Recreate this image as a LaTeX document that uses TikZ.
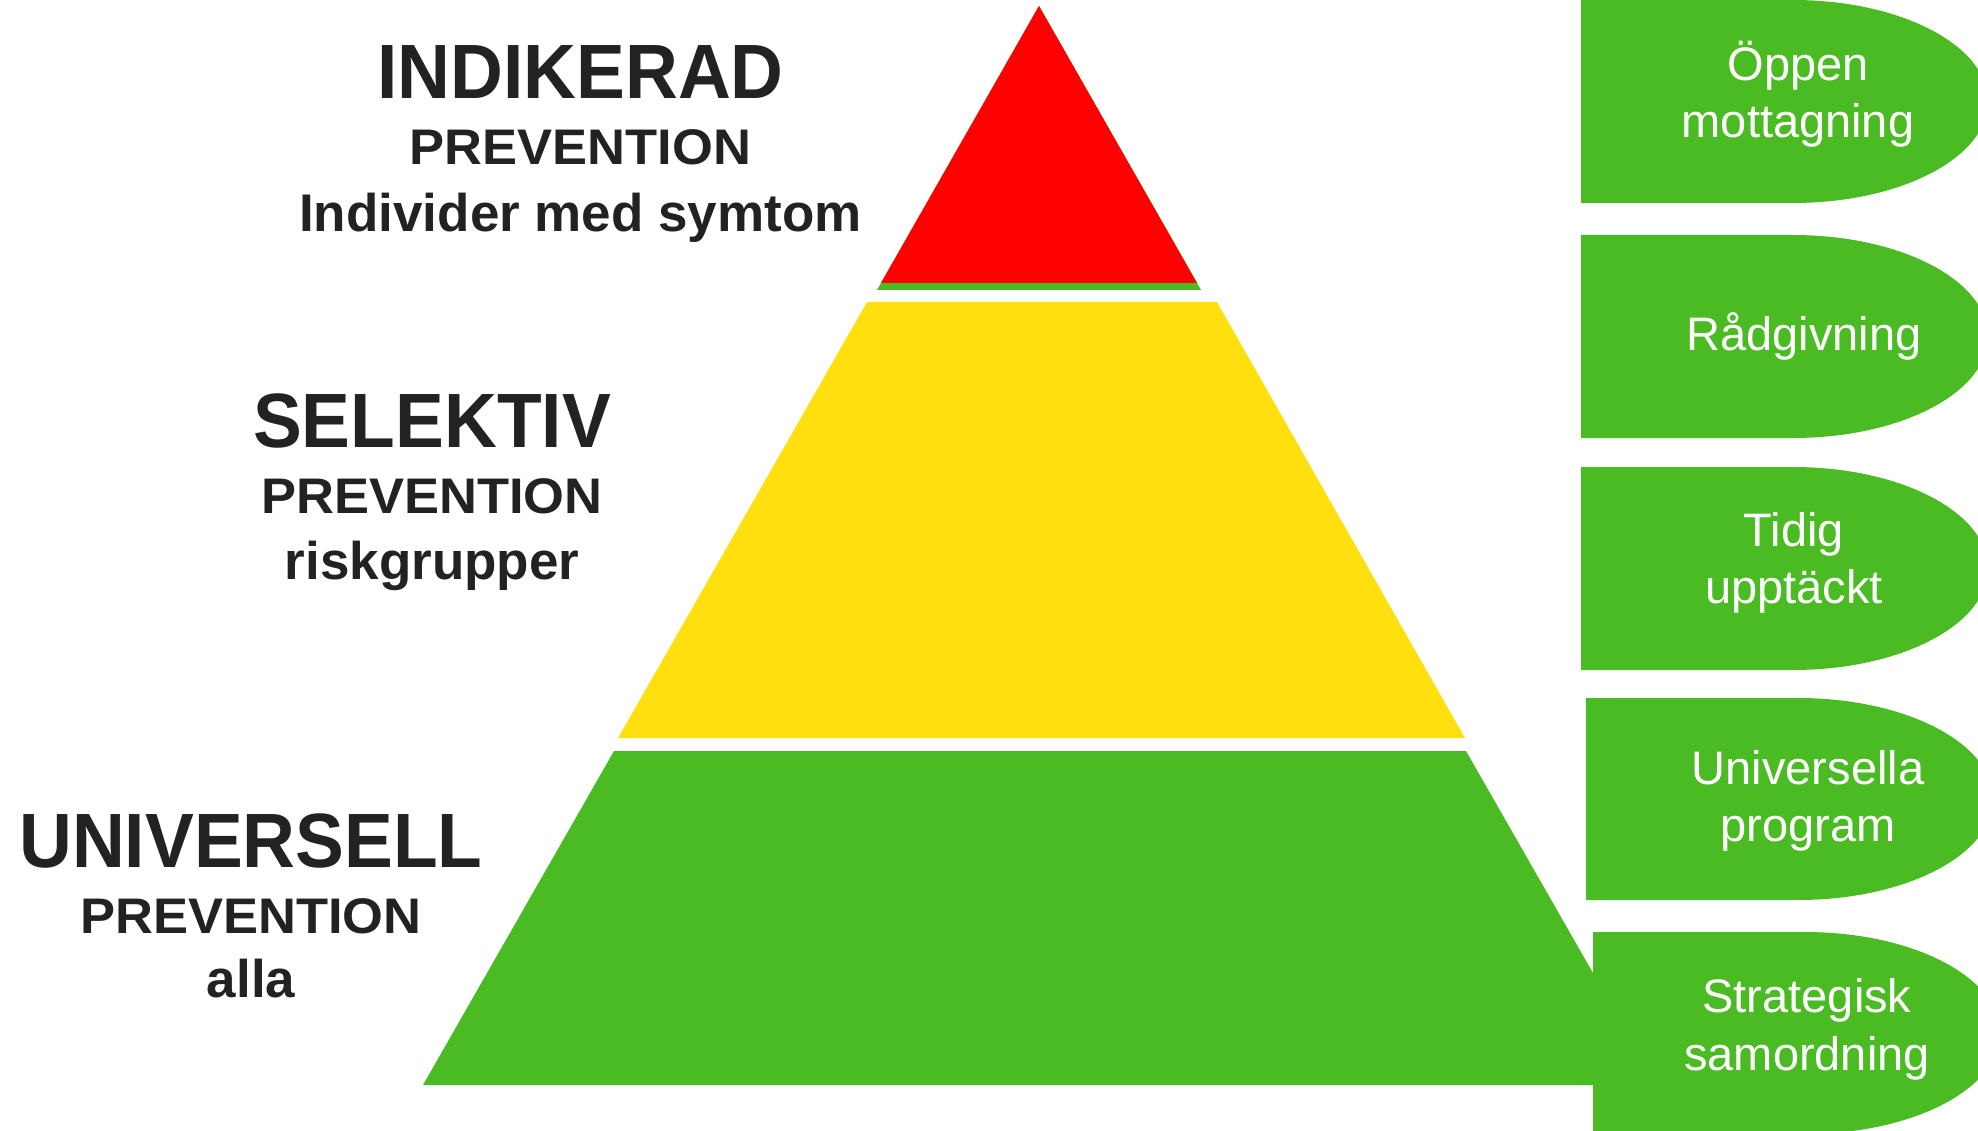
\documentclass[tikz,border=0pt]{standalone}
\usepackage{fontspec}
\setmainfont{Liberation Sans}
\newfontfamily\titlefont[FakeStretch=0.95]{Liberation Sans}
\newfontfamily\prevfont[FakeStretch=1.05]{Liberation Sans}
\definecolor{grn}{RGB}{75,187,35}
\definecolor{ylw}{RGB}{255,224,14}
\definecolor{rd}{RGB}{254,0,0}
\definecolor{txt}{RGB}{34,34,34}
% left x, top y, bottom y, x where the round end starts
\newcommand\bubblefill[4]{%
  \fill[grn] (#1,-#2) -- (#4,-#2)
    arc[start angle=90, end angle=-90, x radius=195, y radius={(#3-#2)/2}]
    -- (#1,-#3) -- cycle;}
\tikzset{
  lvltitle/.style={anchor=base, inner sep=0pt, text=txt, font=\titlefont\bfseries\fontsize{77}{77}\selectfont},
  prevtxt/.style={anchor=base, inner sep=0pt, text=txt, font=\prevfont\bfseries\fontsize{50}{50}\selectfont},
  subtxt/.style={anchor=base, inner sep=0pt, text=txt, font=\bfseries\fontsize{53}{53}\selectfont},
  btext/.style={anchor=base, inner sep=0pt, text=white, font=\fontsize{47}{47}\selectfont},
}
\begin{document}
\begin{tikzpicture}[x=1pt,y=1pt]
\useasboundingbox (0,0) rectangle (1978,-1131);
\begin{scope}
\clip (0,0) rectangle (1978,-1131);
% pyramid
\fill[grn] (1039,-6) -- (1201,-290) -- (877,-290) -- cycle;
\fill[rd] (1039,-6) -- (1197,-283) -- (881,-283) -- cycle;
\fill[ylw] (867,-302) -- (1217,-302) -- (1465,-738) -- (618,-738) -- cycle;
\fill[grn] (614,-751) -- (1466,-751) -- (1657,-1085) -- (423,-1085) -- cycle;
% bubbles
\bubblefill{1581}{0}{203}{1793}
\bubblefill{1581}{235}{438}{1793}
\bubblefill{1581}{467}{670}{1793}
\bubblefill{1586}{698}{900}{1798}
\bubblefill{1593}{932}{1134}{1805}
\end{scope}
% left labels
\node[lvltitle] (t1) at (580.5,-99) {INDIKERAD};
\node[prevtxt] (p1) at (580.5,-165) {PREVENTION};
\node[subtxt] (s1) at (580.5,-232) {Individer med symtom};
\node[lvltitle] (t2) at (432,-447) {SELEKTIV};
\node[prevtxt] (p2) at (432,-513) {PREVENTION};
\node[subtxt] (s2) at (432,-579) {riskgrupper};
\node[lvltitle] (t3) at (251,-867) {UNIVERSELL};
\node[prevtxt] (p3) at (251,-933) {PREVENTION};
\node[subtxt] (s3) at (251,-997) {alla};
% bubble texts
\node[btext] (b1a) at (1798,-81) {Öppen};
\node[btext] (b1b) at (1798,-138) {mottagning};
\node[btext] (b2a) at (1804,-351) {Rådgivning};
\node[btext] (b3a) at (1794,-546) {Tidig};
\node[btext] (b3b) at (1794,-603) {upptäckt};
\node[btext] (b4a) at (1808,-784) {Universella};
\node[btext] (b4b) at (1808,-841) {program};
\node[btext] (b5a) at (1807,-1012) {Strategisk};
\node[btext] (b5b) at (1807,-1070) {samordning};
\end{tikzpicture}
\end{document}
